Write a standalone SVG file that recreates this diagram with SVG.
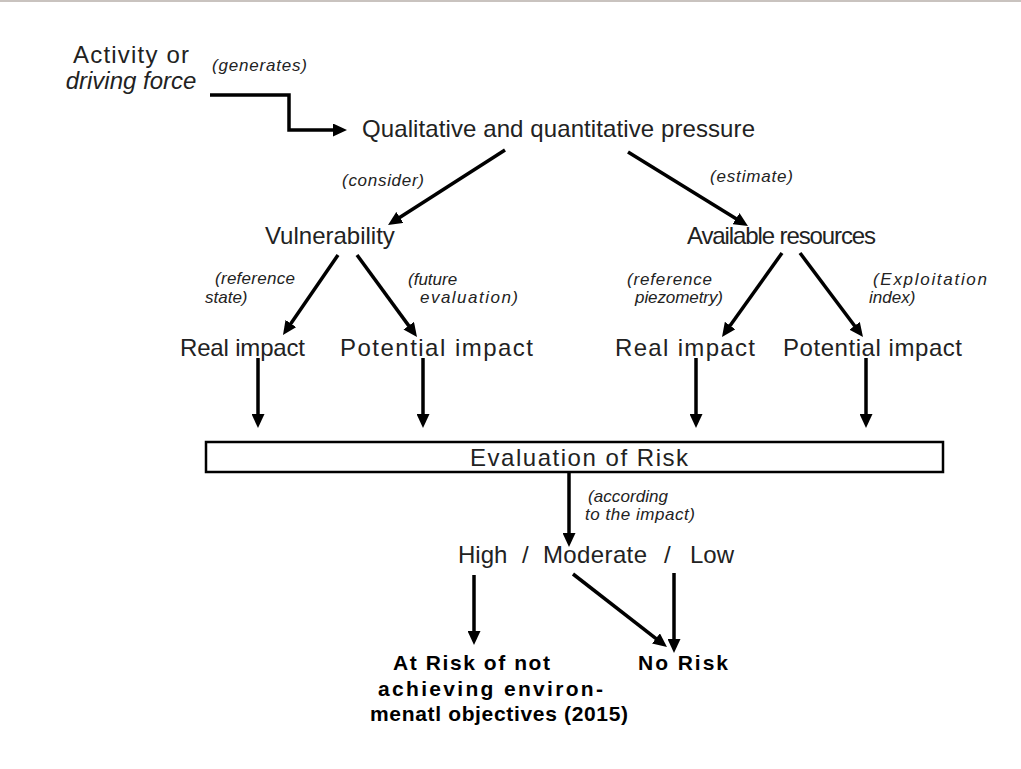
<svg xmlns="http://www.w3.org/2000/svg" width="1021" height="769" viewBox="0 0 1021 769">
<defs>
<marker id="ah" markerUnits="userSpaceOnUse" markerWidth="15" markerHeight="13" refX="3" refY="6.5" orient="auto">
<path d="M0,0 L14,6.5 L0,13 z" fill="#000"/>
</marker>
<style>
text{font-family:"Liberation Sans",Arial,sans-serif;fill:#222}
.m{font-size:24px}
.s{font-size:17px;font-style:italic}
.b{font-size:21px;font-weight:bold;fill:#000}
.c{stroke:#000;stroke-width:3.5;fill:none;marker-end:url(#ah)}
</style>
</defs>
<rect x="0" y="0" width="1021" height="769" fill="#fff"/>
<rect x="0" y="0" width="1021" height="2" fill="#c9c3bf"/>

<g id="activity">
<text class="m" x="131" y="63" text-anchor="middle" textLength="116">Activity or</text>
<text class="m" x="131" y="89" text-anchor="middle" font-style="italic">driving force</text>
</g>
<g id="pressure"><text class="m" x="362" y="137" textLength="393">Qualitative and quantitative pressure</text></g>
<g id="vulnerability"><text class="m" x="265" y="244">Vulnerability</text></g>
<g id="resources"><text class="m" x="687" y="244" textLength="189">Available resources</text></g>
<g id="real-impact-1"><text class="m" x="180" y="356" textLength="125">Real impact</text></g>
<g id="potential-impact-1"><text class="m" x="340" y="356" textLength="193">Potential impact</text></g>
<g id="real-impact-2"><text class="m" x="615" y="356" textLength="140">Real impact</text></g>
<g id="potential-impact-2"><text class="m" x="783" y="356" textLength="179">Potential impact</text></g>
<g id="evaluation">
<rect x="206" y="442" width="737" height="30" fill="#fff" stroke="#000" stroke-width="2.5"/>
<text class="m" x="470" y="466" textLength="218">Evaluation of Risk</text>
</g>
<g id="levels">
<text class="m" x="458" y="563">High</text>
<text class="m" x="522" y="563">/</text>
<text class="m" x="543" y="563" textLength="104">Moderate</text>
<text class="m" x="664" y="563">/</text>
<text class="m" x="690" y="563">Low</text>
</g>
<g id="at-risk">
<text class="b" x="393" y="670" textLength="157">At Risk of not</text>
<text class="b" x="378" y="696" textLength="225">achieving environ-</text>
<text class="b" x="370" y="721" textLength="258">menatl objectives (2015)</text>
</g>
<g id="no-risk"><text class="b" x="638" y="670" textLength="90">No Risk</text></g>

<g id="labels">
<text class="s" x="212" y="71" textLength="95">(generates)</text>
<text class="s" x="342" y="186" textLength="82">(consider)</text>
<text class="s" x="710" y="182" textLength="83">(estimate)</text>
<text class="s" x="215" y="284" textLength="80">(reference</text>
<text class="s" x="205" y="303">state)</text>
<text class="s" x="408" y="285">(future</text>
<text class="s" x="420" y="303" textLength="98">evaluation)</text>
<text class="s" x="627" y="285" textLength="85">(reference</text>
<text class="s" x="635" y="303" textLength="88">piezometry)</text>
<text class="s" x="873" y="285" textLength="114">(Exploitation</text>
<text class="s" x="869" y="303">index)</text>
<text class="s" x="588" y="502" textLength="80">(according</text>
<text class="s" x="585" y="520" textLength="110">to the impact)</text>
</g>

<g id="connectors">
<polyline class="c" points="210,95 289,95 289,130 336,130"/>
<line class="c" x1="505" y1="150" x2="397.3" y2="219"/>
<line class="c" x1="628" y1="152" x2="738.6" y2="220.2"/>
<line class="c" x1="338" y1="255" x2="289.2" y2="326"/>
<line class="c" x1="357" y1="255" x2="410.5" y2="328.1"/>
<line class="c" x1="782" y1="253" x2="728.4" y2="328"/>
<line class="c" x1="800" y1="253" x2="856.4" y2="328.2"/>
<line class="c" x1="258" y1="358" x2="258" y2="417"/>
<line class="c" x1="423" y1="358" x2="423" y2="417"/>
<line class="c" x1="696" y1="358" x2="696" y2="417"/>
<line class="c" x1="866" y1="358" x2="866" y2="417"/>
<line class="c" x1="569" y1="473" x2="569" y2="536"/>
<line class="c" x1="474" y1="575" x2="474" y2="634"/>
<line class="c" x1="573" y1="574" x2="658.3" y2="640.3"/>
<line class="c" x1="674" y1="573" x2="674" y2="642"/>
</g>
</svg>
